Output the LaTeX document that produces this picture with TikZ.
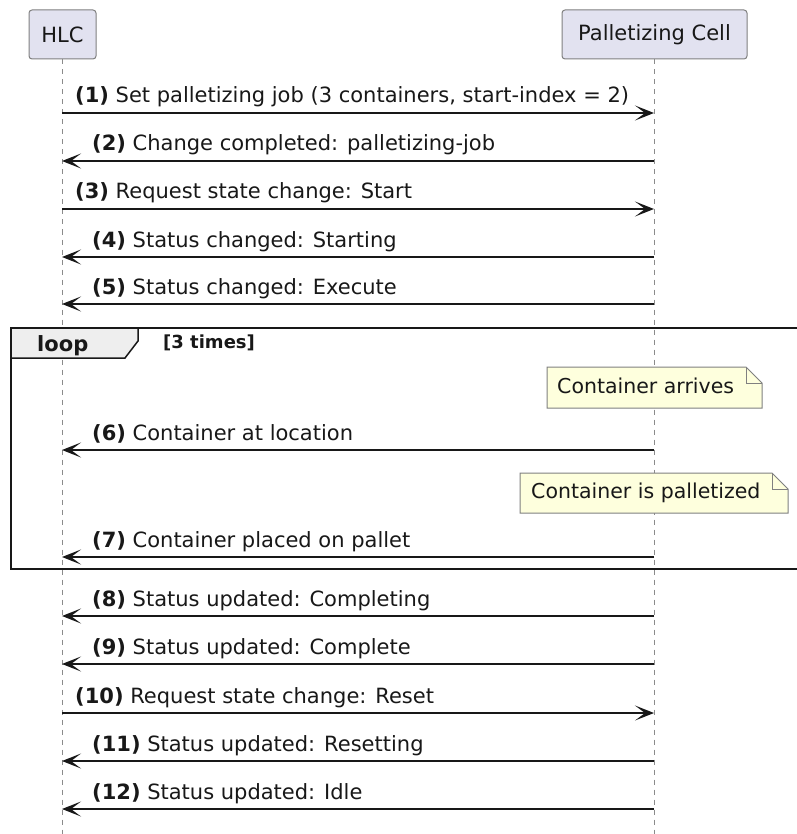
\documentclass[tikz,border=0pt]{standalone}
\usepackage{fontspec}
\setmainfont{DejaVu Sans}
\usetikzlibrary{arrows.meta}
\definecolor{pbox}{HTML}{E2E2F0}
\definecolor{ink}{HTML}{181818}
\definecolor{notefill}{HTML}{FEFFDD}
\definecolor{loophead}{HTML}{EEEEEE}
\begin{document}
\begin{tikzpicture}[x=1pt,y=-1pt,
  part/.style={draw=ink!55, line width=1pt, fill=pbox, rounded corners=3pt, minimum height=49pt, inner sep=0pt, font=\fontsize{21}{25}\selectfont, text=ink},
  life/.style={draw=ink!50, line width=1pt, dash pattern=on 5pt off 5pt},
  msg/.style={draw=ink, line width=1.3pt, -{Stealth[length=19pt,width=15pt,inset=10pt]}},
  lbl/.style={anchor=base west, inner sep=0pt, font=\fontsize{21}{25}\selectfont, text=ink},
  notebox/.style={draw=ink!55, line width=1pt, fill=notefill},
  notetxt/.style={anchor=base west, inner sep=0pt, font=\fontsize{20.5}{24}\selectfont, text=ink},
  frame/.style={draw=ink, line width=2pt},
]
\useasboundingbox (0,0) rectangle (796,834);
\fill[white] (0,0) rectangle (796,834);

% participants
\node[part, minimum width=67pt] (hlc) at (62.5,34.5) {HLC};
\node[part, minimum width=185pt] (pc) at (654.5,34.5) {Palletizing Cell};

% lifelines
\coordinate (hlcend) at (62,834);
\coordinate (pcend) at (654,834);
\draw[life] (hlc.south -| hlcend) -- (hlcend);
\draw[life] (pc.south -| pcend) -- (pcend);

% loop frame
\draw[frame] (797,328) -- (11,328) -- (11,569) -- (797,569);
\filldraw[fill=loophead, draw=ink, line width=1.5pt] (11,328) -- (138,328) -- (138,341) -- (125,358) -- (11,358) -- cycle;
\node[anchor=base west, inner sep=0pt, font=\bfseries\fontsize{21}{25}\selectfont, text=ink] (looplbl) at (37,351) {loop};
\node[anchor=base west, inner sep=0pt, font=\bfseries\fontsize{18}{22}\selectfont, text=ink] (loopcond) at (163,348) {[3 times]};

% notes
\filldraw[notebox] (547,367) -- (746,367) -- (762,383) -- (762,408) -- (547,408) -- cycle;
\draw[draw=ink!55, line width=1pt] (746,367) -- (746,383) -- (762,383);
\node[notetxt] (n1) at (557,393) {Container arrives};
\filldraw[notebox] (520,473) -- (772,473) -- (788,489) -- (788,513) -- (520,513) -- cycle;
\draw[draw=ink!55, line width=1pt] (772,473) -- (772,489) -- (788,489);
\node[notetxt] (n2) at (531,498) {Container is palletized};

% messages
\foreach \i/\y in {1/113,2/161,3/209,4/257,5/304,6/450,7/557,8/616,9/664,10/713,11/761,12/809}{
  \coordinate (h\i) at (62,\y);
  \coordinate (p\i) at (654,\y);
}
\draw[msg] (h1) -- (p1);
\node[lbl] (m1) at (75,103) {\textbf{(1)} Set palletizing job (3 containers, start-index = 2)};
\draw[msg] (p2) -- (h2);
\node[lbl] (m2) at (92,151) {\textbf{(2)} Change completed: palletizing-job};
\draw[msg] (h3) -- (p3);
\node[lbl] (m3) at (75,199) {\textbf{(3)} Request state change: Start};
\draw[msg] (p4) -- (h4);
\node[lbl] (m4) at (92,247) {\textbf{(4)} Status changed: Starting};
\draw[msg] (p5) -- (h5);
\node[lbl] (m5) at (92,294) {\textbf{(5)} Status changed: Execute};
\draw[msg] (p6) -- (h6);
\node[lbl] (m6) at (92,440) {\textbf{(6)} Container at location};
\draw[msg] (p7) -- (h7);
\node[lbl] (m7) at (92,547) {\textbf{(7)} Container placed on pallet};
\draw[msg] (p8) -- (h8);
\node[lbl] (m8) at (92,606) {\textbf{(8)} Status updated: Completing};
\draw[msg] (p9) -- (h9);
\node[lbl] (m9) at (92,654) {\textbf{(9)} Status updated: Complete};
\draw[msg] (h10) -- (p10);
\node[lbl] (m10) at (75,703) {\textbf{(10)} Request state change: Reset};
\draw[msg] (p11) -- (h11);
\node[lbl] (m11) at (92,751) {\textbf{(11)} Status updated: Resetting};
\draw[msg] (p12) -- (h12);
\node[lbl] (m12) at (92,799) {\textbf{(12)} Status updated: Idle};
\end{tikzpicture}
\end{document}
